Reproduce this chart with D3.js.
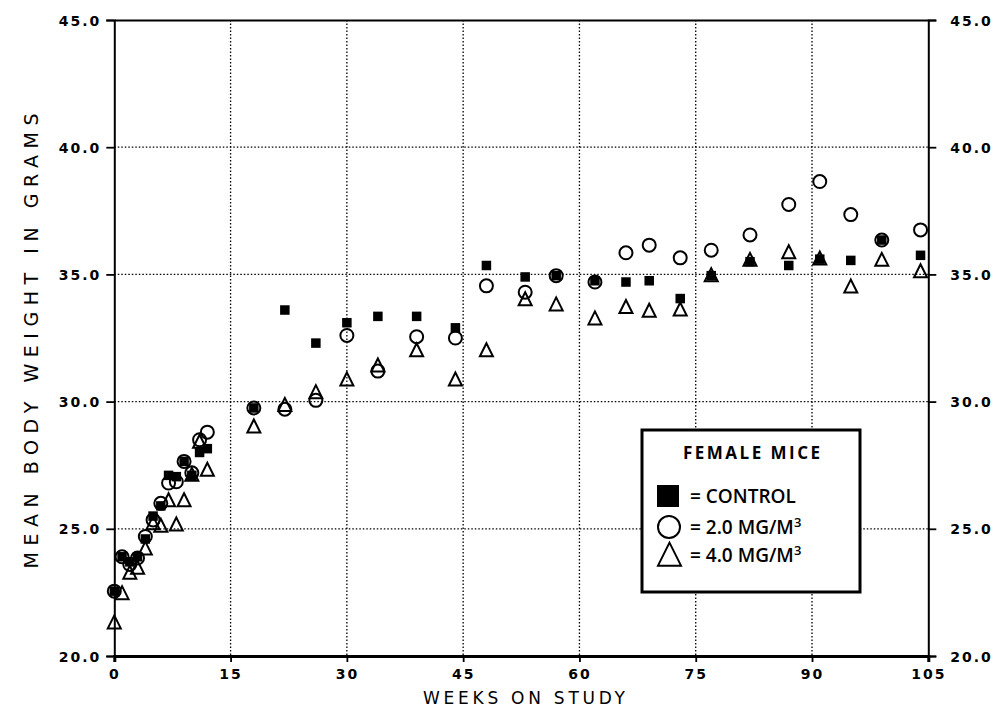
<!DOCTYPE html>
<html>
<head>
<meta charset="utf-8">
<script src="https://cdn.jsdelivr.net/npm/d3@7/dist/d3.min.js"></script>
<style>
  html, body { margin: 0; padding: 0; background: #fff; }
  svg { display: block; }
</style>
</head>
<body>
<svg id="chart" width="998" height="710"></svg>
<script>
// ---- data ----
const weeks   = [0,1,2,3,4,5,6,7,8,9,10,11,12,18,22,26,30,34,39,44,48,53,57,62,66,69,73,77,82,87,91,95,99,104];
const control = [22.55,23.9,23.7,23.9,24.6,25.5,25.9,27.1,27.05,27.65,27.1,28.0,28.15,29.75,33.6,32.3,33.1,33.35,33.35,32.9,35.35,34.9,34.95,34.75,34.7,34.75,34.05,34.95,35.5,35.35,35.6,35.55,36.35,35.75];
const low     = [22.55,23.9,23.6,23.85,24.7,25.35,26.0,26.8,26.85,27.65,27.2,28.5,28.8,29.75,29.7,30.05,32.6,31.2,32.55,32.5,34.55,34.3,34.95,34.7,35.85,36.15,35.65,35.95,36.55,37.75,38.65,37.35,36.35,36.75];
const high    = [21.3,22.45,23.25,23.45,24.2,25.2,25.1,26.1,25.15,26.1,27.1,28.4,27.3,29.0,29.85,30.35,30.85,31.4,32.0,30.85,32.0,34.0,33.8,33.25,33.7,33.55,33.6,34.95,35.55,35.85,35.6,34.5,35.55,35.1];
const xTicks  = [0,15,30,45,60,75,90,105];
const yTicks  = [20,25,30,35,40,45];
const xTitle = "WEEKS ON STUDY";
const yTitle = "MEAN BODY WEIGHT IN GRAMS";
const legendTitle = "FEMALE MICE";
const legendItems = [
  {type:"square", text:"= CONTROL", sup:""},
  {type:"circle", text:"= 2.0 MG/M", sup:"3"},
  {type:"triangle", text:"= 4.0 MG/M", sup:"3"}
];

// ---- layout ----
const svg = d3.select("#chart");
const pLeft = 114.3, pRight = 928.3, pTop = 20, pBottom = 656;
const x = d3.scaleLinear().domain([0,105]).range([pLeft,pRight]);
const y = d3.scaleLinear().domain([20,45]).range([pBottom,pTop]);

const numFont = "'DejaVu Sans', sans-serif";
const txtFont = "'Open Sans', 'DejaVu Sans', sans-serif";
const titleFont = "'DejaVu Sans', sans-serif";

// gridlines (dotted)
const grid = svg.append("g");
grid.selectAll("line.gx").data(xTicks.filter(d => d > 0 && d < 105)).join("line")
  .attr("x1", d => x(d)).attr("x2", d => x(d)).attr("y1", pTop).attr("y2", pBottom)
  .attr("stroke", "#000").attr("stroke-width", 1.3).attr("stroke-dasharray", "1.5,2");
grid.selectAll("line.gy").data(yTicks.filter(d => d > 20 && d < 45)).join("line")
  .attr("x1", pLeft).attr("x2", pRight).attr("y1", d => y(d)).attr("y2", d => y(d))
  .attr("stroke", "#000").attr("stroke-width", 1.3).attr("stroke-dasharray", "1.5,2");

// axes
const fmt = d3.format(".1f");
const gL = svg.append("g").attr("transform", `translate(${pLeft},0)`)
  .call(d3.axisLeft(y).tickValues(yTicks).tickFormat(fmt).tickSize(8).tickPadding(5));
const gR = svg.append("g").attr("transform", `translate(${pRight},0)`)
  .call(d3.axisRight(y).tickValues(yTicks).tickFormat(fmt).tickSize(8).tickPadding(14));
const gB = svg.append("g").attr("transform", `translate(0,${pBottom})`)
  .call(d3.axisBottom(x).tickValues(xTicks).tickFormat(d3.format("d")).tickSize(6).tickPadding(7));
const gT = svg.append("g").attr("transform", `translate(0,${pTop})`)
  .call(d3.axisTop(x).tickValues([]).tickSize(0));

[gL, gR, gB, gT].forEach(g => {
  g.select(".domain").attr("stroke", "#000").attr("stroke-width", 2);
  g.selectAll(".tick line").attr("stroke", "#000").attr("stroke-width", 1.8);
  g.selectAll(".tick text").attr("fill", "#000")
    .style("font-family", numFont).style("font-weight", "bold")
    .style("font-size", "14px").style("letter-spacing", "2px");
});
gB.select(".domain").attr("stroke-width", 3);
gL.selectAll(".tick text").attr("dy", "0.36em");
gR.selectAll(".tick text").attr("dy", "0.36em");

// titles
svg.append("text").attr("x", 524).attr("y", 704)
  .attr("text-anchor", "middle").style("font-family", titleFont)
  .style("font-size", "17px").attr("textLength", 202).attr("lengthAdjust", "spacing")
  .text(xTitle);
svg.append("text").attr("transform", `translate(38,341) rotate(-90)`)
  .attr("text-anchor", "middle").style("font-family", titleFont)
  .style("font-size", "19px").attr("textLength", 455).attr("lengthAdjust", "spacing")
  .text(yTitle);

// data marks
const tri = (cx, cy, s) => `M${cx},${cy - s * 0.58}L${cx - s / 2},${cy + s * 0.42}L${cx + s / 2},${cy + s * 0.42}Z`;
const marks = svg.append("g");
marks.selectAll("rect.c").data(weeks.map((w, i) => [w, control[i]])).join("rect")
  .attr("x", d => x(d[0]) - 4.75).attr("y", d => y(d[1]) - 4.75)
  .attr("width", 9.5).attr("height", 9.5).attr("fill", "#000");
marks.selectAll("circle.l").data(weeks.map((w, i) => [w, low[i]])).join("circle")
  .attr("cx", d => x(d[0])).attr("cy", d => y(d[1])).attr("r", 6.5)
  .attr("fill", "none").attr("stroke", "#000").attr("stroke-width", 2);
marks.selectAll("path.h").data(weeks.map((w, i) => [w, high[i]])).join("path")
  .attr("d", d => tri(x(d[0]), y(d[1]), 13))
  .attr("fill", "none").attr("stroke", "#000").attr("stroke-width", 2).attr("stroke-linejoin", "miter");

// legend
const lg = svg.append("g");
lg.append("rect").attr("x", 642).attr("y", 430).attr("width", 218).attr("height", 162)
  .attr("fill", "#fff").attr("stroke", "#000").attr("stroke-width", 3);
lg.append("text").attr("x", 751.5).attr("y", 459).attr("text-anchor", "middle")
  .style("font-family", txtFont).style("font-weight", "bold").style("font-size", "17px")
  .attr("textLength", 137).attr("lengthAdjust", "spacing").text(legendTitle);
const rowY = [496, 527, 555];
legendItems.forEach((it, i) => {
  const cy = rowY[i];
  if (it.type === "square") {
    lg.append("rect").attr("x", 657).attr("y", cy - 11).attr("width", 22).attr("height", 22).attr("fill", "#000");
  } else if (it.type === "circle") {
    lg.append("circle").attr("cx", 669).attr("cy", cy).attr("r", 11).attr("fill", "none")
      .attr("stroke", "#000").attr("stroke-width", 2);
  } else {
    lg.append("path").attr("d", tri(669.5, cy + 1, 23)).attr("fill", "none")
      .attr("stroke", "#000").attr("stroke-width", 2);
  }
  const t = lg.append("text").attr("x", 690).attr("y", cy + 7)
    .style("font-family", txtFont).style("font-weight", "600").style("font-size", "19px")
    .text(it.text);
  if (it.sup) t.append("tspan").attr("dy", -7).style("font-size", "13px").text(it.sup);
});
</script>
</body>
</html>
